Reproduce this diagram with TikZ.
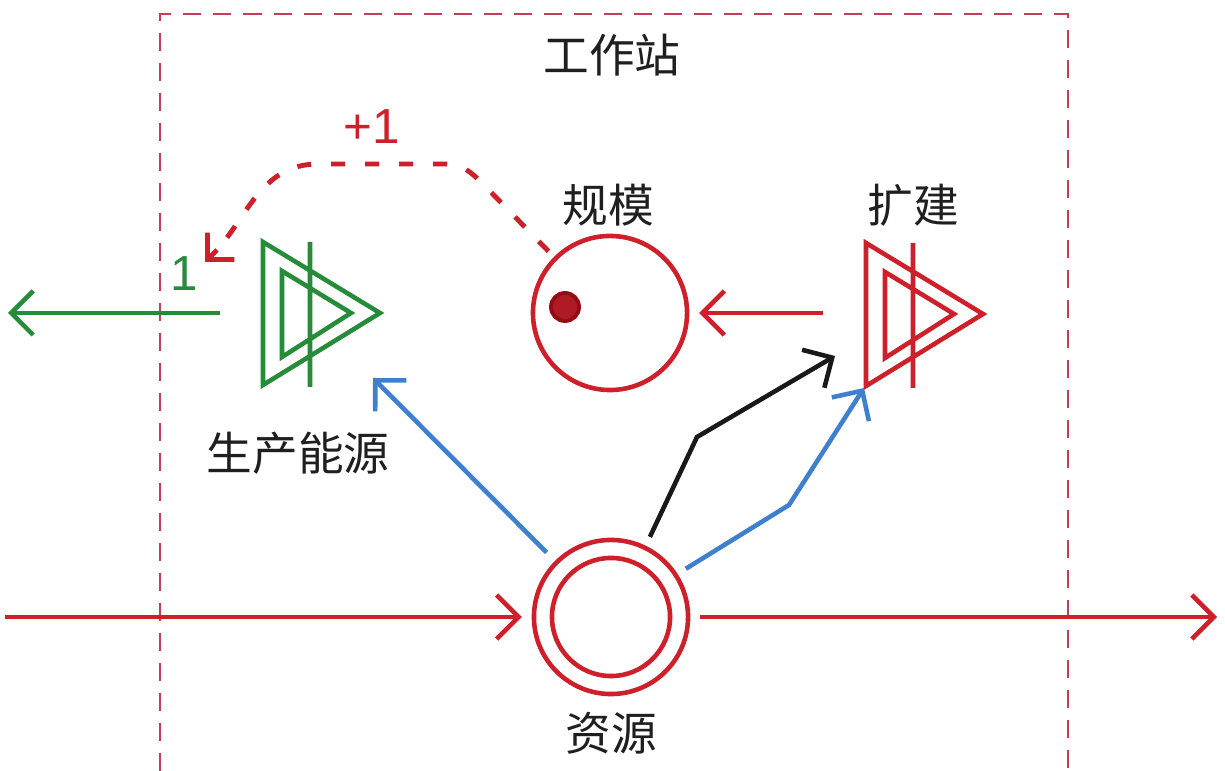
\documentclass[tikz,border=0pt]{standalone}
\usepackage{fontspec}
\setsansfont{Liberation Sans}
\newfontfamily\cjk{Noto Sans CJK SC}
\usetikzlibrary{arrows.meta}
\definecolor{mcred}{RGB}{206,32,42}
\definecolor{mcdark}{RGB}{150,10,20}
\definecolor{mcgreen}{RGB}{38,140,58}
\definecolor{mcblue}{RGB}{62,128,206}
\definecolor{mcframe}{RGB}{196,62,84}
\tikzset{
 mc line/.style={line width=1.3pt,-{Straight Barb[length=2.2mm,width=4.4mm]}},
 mc pool/.style={circle,draw=mcred,line width=1.3pt,inner sep=0pt,outer sep=0pt},
 mc frame/.style={line width=.8pt,mcframe,dash pattern=on 1.8mm off 1.2mm},
 mc label/.style={font=\cjk\fontsize{13}{15}\selectfont,text=black!88},
 mc num/.style={font=\sffamily\fontsize{14}{16}\selectfont}
}
\begin{document}
\begin{tikzpicture}[x=0.01cm,y=-0.01cm]
 \useasboundingbox (0,0) rectangle (1225,771);
 \draw[mc frame] (160,771) -- (160,14) -- (1068,14) -- (1068,771);
 \node[mc label] (ws) at (612,55) {工作站};

 \node[mc pool,minimum size=1.54cm] (scale) at (610,313) {};
 \node[circle,fill=mcred!85!black,draw=mcdark,line width=1.1pt,
       minimum size=0.28cm,inner sep=0pt] (tok) at (565,307) {};
 \node[mc pool,minimum size=1.54cm] (res) at (611,617) {};
 \node[mc pool,minimum size=1.18cm] (res in) at (res) {};
 \coordinate (gen) at (320,313);
 \coordinate (ext) at (923,314);
 \foreach \t/\c in {gen/mcgreen,ext/mcred}
  \draw[line width=1.3pt,\c,shift={(\t)}] (-57,-71) -- (-57,72) -- (60,0) -- cycle
   (-38,-42) -- (-38,44) -- (31,0) -- cycle (-10,-71) -- (-10,74);

 \node[mc label] (scale lbl) at (608,205) {规模};
 \node[mc label] (ext lbl) at (913,205) {扩建};
 \node[mc label] (gen lbl) at (298,453) {生产能源};
 \node[mc label] (res lbl) at (611,733) {资源};

 \coordinate (src) at (5,617);
 \coordinate (drain) at (1217,617);
 \coordinate (gen out) at (220,313);
 \coordinate (sink) at (8,313);
 \coordinate (ext out) at (823,313);
 \coordinate (gen in) at (373,378);
 \coordinate (ext in) at (835,356);
 \coordinate (ext in2) at (864,388);
 \coordinate (gen top) at (205,262);

 \draw[mc line,mcred,shorten >=0.12cm] (src)--(res.west);
 \draw[mc line,mcred,shorten <=0.12cm] (res.east)--(drain);
 \draw[mc line,mcred,shorten >=0.12cm] (ext out)--(scale.east);
 \draw[mc line,mcgreen] (gen out)--(sink);
 \draw[mc line,mcblue,shorten <=0.14cm] (res.135)--(gen in);
 \draw[mc line,black!90,shorten <=0.12cm] (res.64)--(697,437)--(ext in);
 \draw[mc line,mcblue,shorten <=0.12cm] (res.33)--(789,505)--(ext in2);
 % dashed feedback, tip drawn solid
 \draw[line width=1.4pt,mcred,dash pattern=on 1.4mm off 2mm,shorten <=0.1cm,
       shorten >=0.12cm]
  (scale.135) -- (482,183) to[out=135,in=0] (445,164) -- (318,164)
  to[out=180,in=45] (gen top);
 \draw[mc line,mcred,line width=1.4pt,-{Straight Barb[length=1.9mm,width=3.8mm]}]
  ([shift={(12,-12)}]gen top) -- (gen top);

 \node[mc num,text=mcred] (plus) at (372,127) {+1};
 \node[mc num,text=mcgreen] (one) at (184,274) {1};
\end{tikzpicture}
\end{document}
